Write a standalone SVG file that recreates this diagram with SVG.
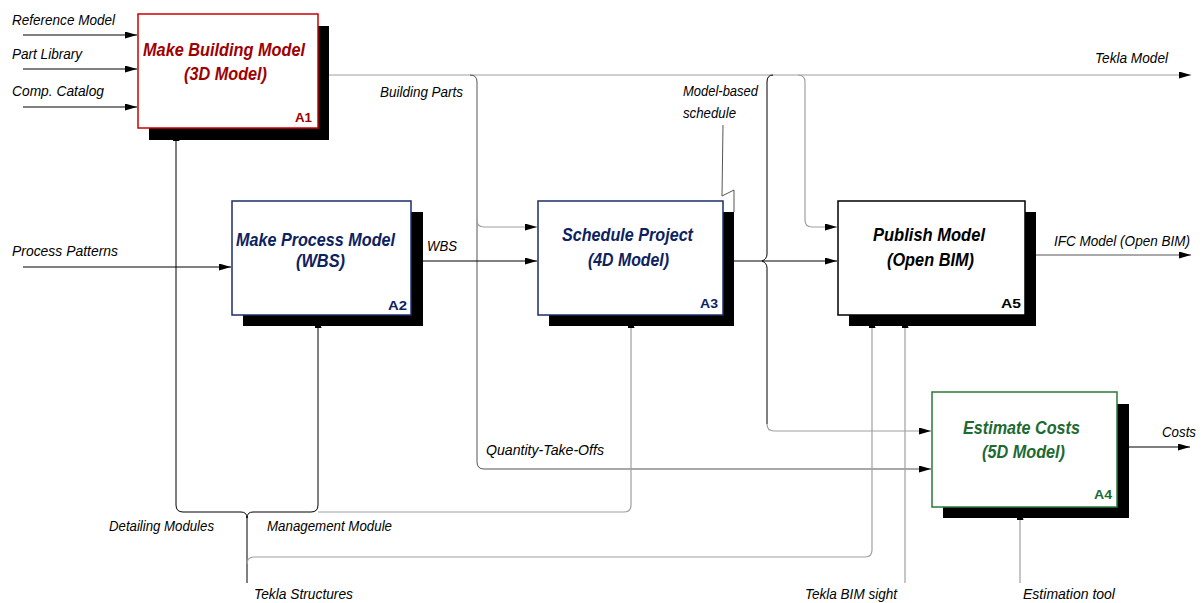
<svg xmlns="http://www.w3.org/2000/svg" width="1203" height="603" viewBox="0 0 1203 603">
<defs>
<marker id="ah" markerWidth="12" markerHeight="7" refX="12" refY="3.5" orient="auto" markerUnits="userSpaceOnUse">
<path d="M0,0 L12,3.5 L0,7 z" fill="#000"/>
</marker>
<style>
.lbl{font-family:"Liberation Sans",Arial,sans-serif;font-style:italic;font-size:15px;fill:#000}
.ttl{font-family:"Liberation Sans",Arial,sans-serif;font-style:italic;font-weight:bold;font-size:19px}
.num{font-family:"Liberation Sans",Arial,sans-serif;font-weight:bold;font-size:12px}
.shadow{fill:#000}
.box{fill:#fff;stroke-width:1.5}
.k{fill:none;stroke:#000;stroke-width:1}
.g{fill:none;stroke:#a0a0a0;stroke-width:1.2}
.d{fill:none;stroke:#555;stroke-width:1}
</style>
</defs>
<rect width="1203" height="603" fill="#fff"/>

<g id="connectors">
<path class="k" d="M23,35 L137,35" marker-end="url(#ah)"/>
<path class="k" d="M23,69 L137,69" marker-end="url(#ah)"/>
<path class="k" d="M23,107 L137,107" marker-end="url(#ah)"/>
<path class="k" d="M23,267 L231,267" marker-end="url(#ah)"/>
<path class="g" d="M329,75 L1191,75" marker-end="url(#ah)"/>
<path class="d" d="M470,75 Q477,75 477,82 L477,462 Q477,469 484,469 L931,469" marker-end="url(#ah)"/>
<path class="g" d="M477,220 Q477,227 484,227 L537,227" marker-end="url(#ah)"/>
<path class="k" d="M423,261 L537,261" marker-end="url(#ah)"/>
<path class="k" d="M734,261 L837,261" marker-end="url(#ah)"/>
<path class="k" d="M773,75 Q767,75 767,82 L767,254 Q767,259 762,261 Q767,263 767,268 L767,424"/>
<path class="g" d="M767,424 Q767,431 774,431 L931,431" marker-end="url(#ah)"/>
<path class="g" d="M798,75 Q805,75 805,82 L805,220 Q805,227 812,227 L837,227" marker-end="url(#ah)"/>
<path class="d" d="M723,125 L722,196 L734,190 L734,212"/>
<path class="d" d="M1036,255 L1191,255" marker-end="url(#ah)"/>
<path class="k" d="M1129,447 L1190,447" marker-end="url(#ah)"/>
<path class="k" d="M247,518 Q247,512 241,512 L183,512 Q176,512 176,505 L176,129" marker-end="url(#ah)"/>
<path class="k" d="M247,518 Q247,512 253,512 L311,512 Q318,512 318,505 L318,316" marker-end="url(#ah)"/>
<path class="g" d="M318,512 L624,512 Q631,512 631,505 L631,316" marker-end="url(#ah)"/>
<path class="k" d="M247,516 L247,583"/>
<path class="g" d="M247,564 Q247,557 254,557 L865,557 Q872,557 872,550 L872,316" marker-end="url(#ah)"/>
<path class="g" d="M905,583 L905,316" marker-end="url(#ah)"/>
<path class="g" d="M1020,583 L1020,508" marker-end="url(#ah)"/>
</g>

<g id="labels">
<text class="lbl" x="12" y="25" textLength="103" lengthAdjust="spacingAndGlyphs">Reference Model</text>
<text class="lbl" x="12" y="59" textLength="70" lengthAdjust="spacingAndGlyphs">Part Library</text>
<text class="lbl" x="12" y="96" textLength="92" lengthAdjust="spacingAndGlyphs">Comp. Catalog</text>
<text class="lbl" x="12" y="256" textLength="106" lengthAdjust="spacingAndGlyphs">Process Patterns</text>
<text class="lbl" x="380" y="97" textLength="83" lengthAdjust="spacingAndGlyphs">Building Parts</text>
<text class="lbl" x="427" y="251" textLength="30" lengthAdjust="spacingAndGlyphs">WBS</text>
<text class="lbl" x="683" y="96" textLength="75" lengthAdjust="spacingAndGlyphs">Model-based</text>
<text class="lbl" x="683" y="118" textLength="53" lengthAdjust="spacingAndGlyphs">schedule</text>
<text class="lbl" x="1095" y="63" textLength="73" lengthAdjust="spacingAndGlyphs">Tekla Model</text>
<text class="lbl" x="1054" y="246" textLength="136" lengthAdjust="spacingAndGlyphs">IFC Model (Open BIM)</text>
<text class="lbl" x="1162" y="437" textLength="34" lengthAdjust="spacingAndGlyphs">Costs</text>
<text class="lbl" x="486" y="455" textLength="118" lengthAdjust="spacingAndGlyphs">Quantity-Take-Offs</text>
<text class="lbl" x="109" y="531" textLength="105" lengthAdjust="spacingAndGlyphs">Detailing Modules</text>
<text class="lbl" x="267" y="531" textLength="125" lengthAdjust="spacingAndGlyphs">Management Module</text>
<text class="lbl" x="254" y="599" textLength="99" lengthAdjust="spacingAndGlyphs">Tekla Structures</text>
<text class="lbl" x="805" y="599" textLength="92" lengthAdjust="spacingAndGlyphs">Tekla BIM sight</text>
<text class="lbl" x="1023" y="599" textLength="92" lengthAdjust="spacingAndGlyphs">Estimation tool</text>
</g>

<g id="A1">
<rect class="shadow" x="149" y="26" width="180" height="114"/>
<rect class="box" x="138" y="14" width="180" height="114" stroke="#cc0000"/>
<text class="ttl" x="143" y="56" fill="#a00000" textLength="162" lengthAdjust="spacingAndGlyphs">Make Building Model</text>
<text class="ttl" x="184" y="80" fill="#a00000" textLength="83" lengthAdjust="spacingAndGlyphs">(3D Model)</text>
<text class="num" x="295" y="122" fill="#a00000" textLength="17" lengthAdjust="spacingAndGlyphs">A1</text>
</g>

<g id="A2">
<rect class="shadow" x="243" y="212" width="180" height="114"/>
<rect class="box" x="232" y="201" width="179" height="114" stroke="#1c2c6c"/>
<text class="ttl" x="236" y="246" fill="#0d2260" textLength="159" lengthAdjust="spacingAndGlyphs">Make Process Model</text>
<text class="ttl" x="296" y="267" fill="#0d2260" textLength="49" lengthAdjust="spacingAndGlyphs">(WBS)</text>
<text class="num" x="388" y="310" fill="#0d2260" textLength="19" lengthAdjust="spacingAndGlyphs">A2</text>
</g>

<g id="A3">
<rect class="shadow" x="549" y="212" width="185" height="114"/>
<rect class="box" x="538" y="201" width="185" height="114" stroke="#1c2c6c"/>
<text class="ttl" x="562" y="241" fill="#0d2260" textLength="131" lengthAdjust="spacingAndGlyphs">Schedule Project</text>
<text class="ttl" x="588" y="266" fill="#0d2260" textLength="81" lengthAdjust="spacingAndGlyphs">(4D Model)</text>
<text class="num" x="700" y="308" fill="#0d2260" textLength="18" lengthAdjust="spacingAndGlyphs">A3</text>
</g>

<g id="A5">
<rect class="shadow" x="849" y="212" width="187" height="114"/>
<rect class="box" x="838" y="201" width="187" height="114" stroke="#000"/>
<text class="ttl" x="873" y="241" fill="#000" textLength="112" lengthAdjust="spacingAndGlyphs">Publish Model</text>
<text class="ttl" x="887" y="266" fill="#000" textLength="87" lengthAdjust="spacingAndGlyphs">(Open BIM)</text>
<text class="num" x="1001" y="308" fill="#000" textLength="20" lengthAdjust="spacingAndGlyphs">A5</text>
</g>

<g id="A4">
<rect class="shadow" x="943" y="404" width="186" height="114"/>
<rect class="box" x="932" y="392" width="185" height="115" stroke="#2a7a3a"/>
<text class="ttl" x="963" y="434" fill="#1d6a32" textLength="117" lengthAdjust="spacingAndGlyphs">Estimate Costs</text>
<text class="ttl" x="982" y="458" fill="#1d6a32" textLength="83" lengthAdjust="spacingAndGlyphs">(5D Model)</text>
<text class="num" x="1094" y="499" fill="#1d6a32" textLength="18" lengthAdjust="spacingAndGlyphs">A4</text>
</g>
</svg>
